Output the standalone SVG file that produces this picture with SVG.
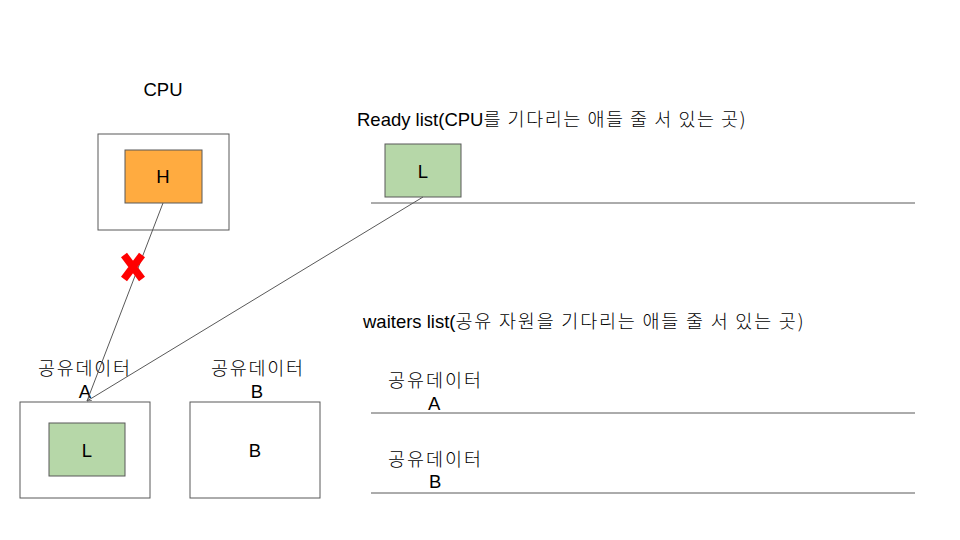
<svg xmlns="http://www.w3.org/2000/svg" width="960" height="540" viewBox="0 0 960 540">
<style>
text{font-family:"Liberation Sans","Noto Sans CJK KR",sans-serif;font-size:18.5px;fill:#000}
.ko{font-family:"Noto Sans CJK KR",sans-serif;font-weight:300}
.c{text-anchor:middle}
.box{fill:#fff;stroke:#595959;stroke-width:1}
.green{fill:#b6d7a8;stroke:#595959;stroke-width:1}
.orange{fill:#ffab40;stroke:#595959;stroke-width:1}
.rule{stroke:#595959;stroke-width:1}
.conn{stroke:#595959;stroke-width:1;fill:none}
</style>
<defs>
<marker id="ah" viewBox="0 0 10 10" refX="9" refY="5" markerWidth="5" markerHeight="5" orient="auto">
<path d="M0,1 L9,5 L0,9" fill="none" stroke="#595959" stroke-width="1.5"/>
</marker>
</defs>
<rect width="960" height="540" fill="#fff"/>
<g id="cpu">
<text class="c" x="163" y="96">CPU</text>
<rect class="box" x="98" y="134" width="131" height="96"/>
<g id="h">
<rect class="orange" x="125" y="150" width="77" height="53"/>
<text class="c" x="163" y="183">H</text>
</g>
</g>
<g id="ready">
<text x="357" y="126">Ready list(CPU<tspan class="ko" textLength="262" lengthAdjust="spacing">를 기다리는 애들 줄 서 있는 곳)</tspan></text>
<line class="rule" x1="371" y1="203" x2="915" y2="203"/>
<g id="readyL">
<rect class="green" x="385" y="144" width="76" height="53"/>
<text class="c" x="423" y="178">L</text>
</g>
</g>
<g id="sharedA">
<text class="ko" x="38" y="375" textLength="92" lengthAdjust="spacing">공유데이터</text>
<text class="c" x="85" y="398">A</text>
<rect class="box" x="20" y="402" width="130" height="96"/>
<g id="lockL">
<rect class="green" x="49" y="423" width="76" height="53"/>
<text class="c" x="87" y="457">L</text>
</g>
</g>
<g id="sharedB">
<text class="ko" x="211" y="375" textLength="92" lengthAdjust="spacing">공유데이터</text>
<text class="c" x="257" y="398">B</text>
<rect class="box" x="190" y="402" width="130" height="96"/>
<text class="c" x="255" y="457">B</text>
</g>
<g id="waiters">
<text x="363" y="328">waiters list(<tspan class="ko" textLength="348" lengthAdjust="spacing">공유 자원을 기다리는 애들 줄 서 있는 곳)</tspan></text>
<text class="ko" x="388" y="387" textLength="93" lengthAdjust="spacing">공유데이터</text>
<text x="428" y="410">A</text>
<line class="rule" x1="371" y1="413" x2="915" y2="413"/>
<text class="ko" x="388" y="466" textLength="93" lengthAdjust="spacing">공유데이터</text>
<text x="429" y="488">B</text>
<line class="rule" x1="371" y1="493" x2="915" y2="493"/>
</g>
<g id="connectors">
<line class="conn" x1="163" y1="203" x2="87" y2="401"/>
<line class="conn" x1="423" y1="197" x2="87" y2="401" marker-end="url(#ah)"/>
</g>
<g id="cross">
<path d="M124,255 L142,279 M142,255 L124,279" stroke="#f00" stroke-width="7.5" fill="none"/>
</g>
</svg>
